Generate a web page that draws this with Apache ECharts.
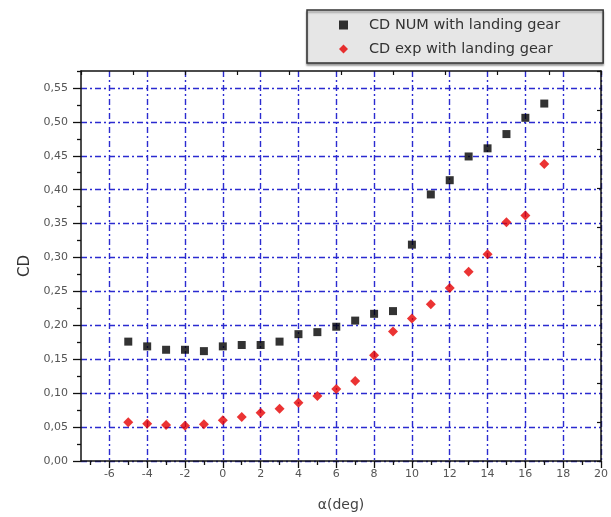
<!DOCTYPE html>
<html><head><meta charset="utf-8">
<script src="https://cdn.jsdelivr.net/npm/echarts@6/dist/echarts.min.js"></script>
<style>html,body{margin:0;padding:0;background:#fff}#c{width:611px;height:517px}</style>
</head><body><div id="c"></div>
<script>
const alpha = [-5,-4,-3,-2,-1,0,1,2,3,4,5,6,7,8,9,10,11,12,13,14,15,16,17];
const cdNum = [0.176,0.169,0.164,0.164,0.162,0.169,0.171,0.171,0.176,0.187,0.190,0.198,0.207,0.217,0.221,0.319,0.393,0.414,0.449,0.461,0.482,0.506,0.527];
const cdExp = [0.057,0.055,0.053,0.052,0.054,0.060,0.065,0.071,0.077,0.086,0.096,0.106,0.118,0.156,0.191,0.210,0.231,0.255,0.279,0.305,0.352,0.362,0.438];
const xMajorTicks = [-6,-4,-2,0,2,4,6,8,10,12,14,16,18,20];
const xMinorTicks = [-7,-5,-3,-1,1,3,5,7,9,11,13,15,17,19];
const yMajorTicks = [0,0.05,0.10,0.15,0.20,0.25,0.30,0.35,0.40,0.45,0.50,0.55];
const yMinorTicks = [0.025,0.075,0.125,0.175,0.225,0.275,0.325,0.375,0.425,0.475,0.525,0.575];
const seriesNames = ['CD NUM with landing gear','CD exp with landing gear'];

const FONT = 'DejaVu Sans';
const frame = {show:true, onZero:false, lineStyle:{color:'#111', width:1.5}};
const grid = {color:'#2b2bd0', width:1.4, type:[6,3,2,3]};
const chart = echarts.init(document.getElementById('c'));
chart.setOption({
  animation:false,
  backgroundColor:'#fff',
  grid:{left:81, right:7, top:71, bottom:54},
  legend:{
    orient:'vertical', left:307, top:10,
    padding:[7,43,6,32], itemGap:8, itemWidth:9, itemHeight:9,
    backgroundColor:'#e6e6e6', borderColor:'#333', borderWidth:1.5,
    shadowColor:'rgba(0,0,0,0.35)', shadowOffsetY:2, shadowBlur:2,
    textStyle:{fontFamily:FONT, fontSize:14.5, color:'#333', lineHeight:16, padding:[0,0,0,16]},
    data:seriesNames
  },
  xAxis:[
    {type:'value', min:-7.5, max:20, position:'bottom',
     name:'α(deg)', nameLocation:'middle', nameGap:37,
     nameTextStyle:{fontFamily:FONT, fontSize:14, color:'#444'},
     axisLine:frame,
     axisTick:{show:true, inside:false, length:7, customValues:xMajorTicks, lineStyle:{color:'#111', width:1.3}},
     axisLabel:{customValues:xMajorTicks, margin:8, fontFamily:FONT, fontSize:11, color:'#555'},
     splitLine:{show:true, lineStyle:grid}},
    {type:'value', min:-7.5, max:20, position:'bottom',
     axisLine:{show:false, onZero:false},
     axisTick:{show:true, inside:false, length:4, customValues:xMinorTicks, lineStyle:{color:'#111', width:1.3}},
     axisLabel:{show:false}, splitLine:{show:false}},
    {type:'value', min:0, max:10, interval:1, position:'top',
     axisLine:frame,
     axisTick:{show:true, inside:true, length:4, lineStyle:{color:'#111', width:1.2}},
     axisLabel:{show:false}, splitLine:{show:false}}
  ],
  yAxis:[
    {type:'value', min:0, max:0.575, position:'left',
     name:'CD', nameLocation:'middle', nameGap:48,
     nameTextStyle:{fontFamily:FONT, fontSize:15, color:'#333'},
     axisLine:frame,
     axisTick:{show:true, inside:false, length:8, customValues:yMajorTicks, lineStyle:{color:'#111', width:1.3}},
     axisLabel:{customValues:yMajorTicks, margin:13, fontFamily:FONT, fontSize:11, color:'#555',
       formatter:v=>v.toFixed(2).replace('.', ',')},
     splitLine:{show:true, lineStyle:grid}},
    {type:'value', min:0, max:0.575, position:'left',
     axisLine:{show:false, onZero:false},
     axisTick:{show:true, inside:false, length:4, customValues:yMinorTicks, lineStyle:{color:'#111', width:1.3}},
     axisLabel:{show:false}, splitLine:{show:false}},
    {type:'value', min:0, max:10, interval:1, position:'right',
     axisLine:frame,
     axisTick:{show:true, inside:true, length:4, lineStyle:{color:'#111', width:1.2}},
     axisLabel:{show:false}, splitLine:{show:false}}
  ],
  series:[
    {name:seriesNames[0], type:'scatter', xAxisIndex:0, yAxisIndex:0, symbol:'rect', symbolSize:8,
     itemStyle:{color:'#000'}, z:5,
     data:alpha.map((a,i)=>[a, cdNum[i]])},
    {name:seriesNames[1], type:'scatter', xAxisIndex:0, yAxisIndex:0, symbol:'diamond', symbolSize:10,
     itemStyle:{color:'#e60000'}, z:5,
     data:alpha.map((a,i)=>[a, cdExp[i]])}
  ]
});
</script></body></html>
